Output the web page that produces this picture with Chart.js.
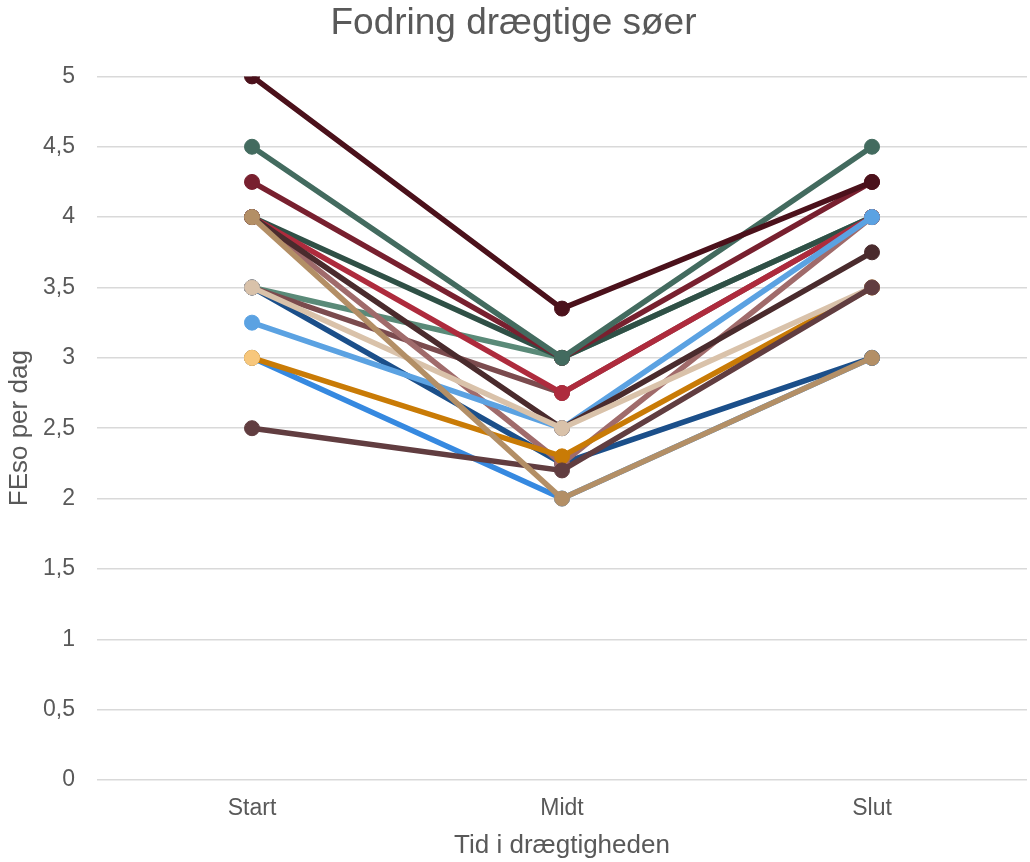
<!DOCTYPE html>
<html>
<head>
<meta charset="utf-8">
<script src="https://cdn.jsdelivr.net/npm/chart.js@4/dist/chart.umd.min.js"></script>
<style>
  html, body { margin: 0; padding: 0; background: #fff; }
  #wrap { width: 1030px; height: 862px; }
</style>
</head>
<body>
<div id="wrap"><canvas id="ch" width="1030" height="862"></canvas></div>
<script>
// ── Data (FEso per dag) ──
const categories = ['Start', 'Midt', 'Slut'];

// listed in paint order, bottom first
const seriesNames = [
  'So 1', 'So 2', 'So 3', 'So 4', 'So 5', 'So 6', 'So 7', 'So 8', 'So 9',
  'So 10', 'So 11', 'So 12', 'So 13', 'So 14', 'So 15', 'So 16', 'So 17'
];
const so1  = [3.5, 3, 4];
const so2  = [4, 3, 4];
const so3  = [4.25, 3, 4.25];
const so4  = [4.5, 3, 4.5];
const so5  = [5, 3.35, 4.25];
const so6  = [3.5, 2.75, 4];
const so7  = [4, 2.75, 4];
const so8  = [3, 2, 3];
const so9  = [3.5, 2.25, 3];
const so10 = [4, 2.25, 4];
const so11 = [3, 2.3, 3.5];
const so12 = [3.25, 2.5, 4];
const so13 = [4, 2.5, 3.75];
const so14 = [3.5, 2.5, 3.5];
const so15 = [2.5, 2.2, 3.5];
const so16 = [4, 2, 3];
const so17 = [3, null, null];

const seriesValues = [so1, so2, so3, so4, so5, so6, so7, so8, so9,
                      so10, so11, so12, so13, so14, so15, so16, so17];

const seriesColors = [
  '#5a8a78', '#2f5046', '#78202f', '#436b5f', '#4b111b', '#7b4b4e',
  '#ae2b3d', '#3689e0', '#1b4f8a', '#a06b6b', '#c97b06', '#5ba2e2',
  '#4a2b2d', '#d9c2aa', '#613d40', '#b38f66', '#f7c77c'
];

const yTicks = [0, 0.5, 1, 1.5, 2, 2.5, 3, 3.5, 4, 4.5, 5];

const FONT = "'Liberation Sans', Arial, sans-serif";
const GREY = '#595959';

const datasets = seriesNames.map((name, i) => ({
  label: name,
  data: seriesValues[i],
  borderColor: seriesColors[i],
  backgroundColor: seriesColors[i],
  pointBackgroundColor: seriesColors[i],
  pointBorderColor: seriesColors[i],
  borderWidth: 5.5,
  pointRadius: 7.5,
  pointBorderWidth: 1,
  tension: 0,
  spanGaps: false,
  order: seriesNames.length - i   // first listed drawn first (bottom)
}));

new Chart(document.getElementById('ch').getContext('2d'), {
  type: 'line',
  data: { labels: categories, datasets: datasets },
  options: {
    responsive: false,
    animation: false,
    devicePixelRatio: 1,
    layout: { autoPadding: false, padding: { left: 0, right: 3, top: 2, bottom: 1 } },
    plugins: {
      legend: { display: false },
      tooltip: { enabled: false },
      title: {
        display: true,
        text: 'Fodring drægtige søer',
        color: GREY,
        font: { family: FONT, size: 37, weight: 'normal' },
        padding: { top: 0, bottom: 30 }
      }
    },
    scales: {
      x: {
        offset: true,
        afterFit: s => { s.height = 81; },
        grid: { display: false, drawTicks: false },
        border: { display: false },
        ticks: { color: GREY, font: { family: FONT, size: 23 }, padding: 15 },
        title: {
          display: true, text: 'Tid i drægtigheden', color: GREY,
          font: { family: FONT, size: 26 }, padding: { top: 0, bottom: 0 }
        }
      },
      y: {
        min: 0, max: 5,
        afterFit: s => { s.width = 97; },
        afterBuildTicks: axis => { axis.ticks = yTicks.map(v => ({ value: v })); },
        grid: { color: '#d9d9d9', lineWidth: 1.5, drawTicks: false },
        border: { display: false },
        ticks: {
          color: GREY, font: { family: FONT, size: 23 }, padding: 22,
          callback: v => String(v).replace('.', ',')
        },
        title: {
          display: true, text: 'FEso per dag', color: GREY,
          font: { family: FONT, size: 26 }, padding: { top: 4, bottom: 0 }
        }
      }
    }
  }
});
</script>
</body>
</html>
